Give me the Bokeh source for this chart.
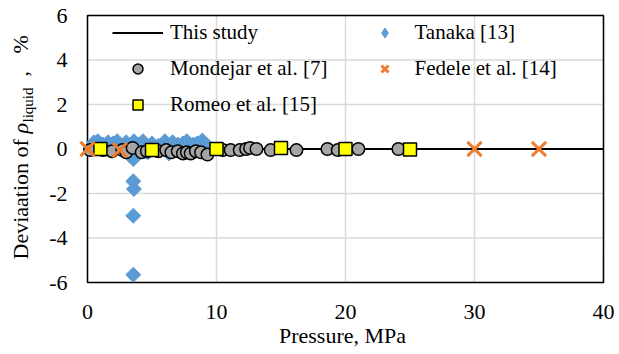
import math
from bokeh.plotting import figure
from bokeh.models import Legend, LegendItem, Range1d
from bokeh.core.properties import value
from bokeh.embed import file_html
from bokeh.resources import INLINE

# ---- data ----
study_p = [0, 40]
study_dev = [0, 0]

tanaka_p = [0.5, 0.8, 1.2, 1.6, 2.0, 2.3, 2.7, 3.0, 3.3, 3.55, 3.6, 3.55, 3.6, 3.55, 3.55,
            4.0, 4.3, 4.7, 5.0, 5.5, 6.0, 6.3, 6.6, 7.0, 7.4, 7.7, 8.2, 8.5, 8.9, 9.2]
tanaka_dev = [0.3, 0.35, 0.2, 0.3, 0.25, 0.35, 0.15, 0.3, -0.3, -0.45, 0.35, -1.45, -1.8, -3.0, -5.65,
              0.2, 0.35, -0.15, 0.25, 0.15, 0.35, -0.2, 0.3, 0.2, 0.25, 0.35, 0.2, 0.25, 0.38, 0.2]

mondejar_p = [0.2, 1.2, 1.9, 2.7, 3.0, 3.5, 4.2, 4.6, 5.5, 6.1, 6.5, 7.0, 7.4, 7.7, 8.0, 8.4,
              8.8, 9.3, 10.5, 11.1, 11.8, 12.3, 12.6, 13.1, 14.2, 16.2, 18.6, 19.4, 21.0, 24.1]
mondejar_dev = [-0.05, -0.05, -0.1, -0.05, -0.15, 0.05, -0.15, -0.1, -0.1, -0.05, -0.15, -0.1, -0.2,
                -0.15, -0.2, -0.1, -0.15, -0.25, -0.05, -0.05, -0.05, 0.0, 0.05, 0.0, -0.05, -0.05,
                0.0, -0.05, 0.0, 0.0]

romeo_p = [1, 5, 10, 15, 20, 25]
romeo_dev = [0.0, -0.05, 0.0, 0.05, 0.0, -0.02]

fedele_p = [0, 2.5, 30, 35]
fedele_dev = [0.0, -0.05, 0.0, 0.0]

x_ticks = [0, 10, 20, 30, 40]
x_tick_labels = ["0", "10", "20", "30", "40"]
y_ticks = [-6, -4, -2, 0, 2, 4, 6]
y_tick_labels = ["-6", "-4", "-2", "0", "2", "4", "6"]
x_title = "Pressure, MPa"

FONT = "Liberation Serif"

# ---- layout (canvas pixels) ----
W, H = 619, 354
PL, PR, PT, PB = 87, 603, 15, 282          # plot-area box in canvas pixels
x0, x1 = x_ticks[0], x_ticks[-1]
y0, y1 = y_ticks[0], y_ticks[-1]
kx = (PR - PL) / (x1 - x0)
ky = (PB - PT) / (y1 - y0)
xr = Range1d(x0 - PL / kx, x1 + (W - PR) / kx)
yr = Range1d(y0 - (H - PB) / ky, y1 + PT / ky)

p = figure(width=W, height=H, output_backend="svg", toolbar_location=None,
           x_range=xr, y_range=yr, x_axis_location=None, y_axis_location=None,
           min_border_left=0, min_border_right=0, min_border_top=0, min_border_bottom=0)
p.grid.visible = False
p.outline_line_color = None
p.background_fill_color = "white"
p.border_fill_color = "white"

# grid lines
p.segment(x0=x_ticks, y0=[y0] * len(x_ticks), x1=x_ticks, y1=[y1] * len(x_ticks),
          line_color="#d9d9d9", line_width=1.5)
p.segment(x0=[x0] * len(y_ticks), y0=y_ticks, x1=[x1] * len(y_ticks), y1=y_ticks,
          line_color="#d9d9d9", line_width=1.5)
# plot-area border
p.quad(left=[x0], right=[x1], bottom=[y0], top=[y1], fill_color=None,
       line_color="black", line_width=1.5)

# tick labels and titles
TK = dict(text_font=value(FONT), text_font_size="22px", text_color="black")
p.text(x=x_ticks, y=[y0] * len(x_ticks), text=x_tick_labels, text_align="center",
       text_baseline="middle", y_offset=29.5, **TK)
p.text(x=[x0] * len(y_ticks), y=y_ticks, text=y_tick_labels, text_align="right",
       text_baseline="middle", x_offset=-20, **TK)
p.text(x=[(x0 + x1) / 2], y=[y0], text=[x_title], text_align="center",
       text_baseline="middle", x_offset=-3, y_offset=53, **TK)

# y title: "Deviaation of ρ_liquid ,  %"
YT = dict(angle=math.pi / 2, text_font=value(FONT), text_color="black",
          text_align="left", text_baseline="middle")
p.text(x=[x0], y=[y0], text=["Deviaation of "], text_font_size="22px",
       x_offset=-67, y_offset=-23, **YT)
p.text(x=[x0], y=[y0], text=["ρ"], text_font_size="22px", text_font_style="italic",
       x_offset=-67, y_offset=-149, **YT)
p.text(x=[x0], y=[y0], text=["liquid"], text_font_size="15px",
       x_offset=-60, y_offset=-160, **YT)
p.text(x=[x0], y=[y0], text=[","], text_font_size="22px",
       x_offset=-67, y_offset=-206, **YT)
p.text(x=[x0], y=[y0], text=["%"], text_font_size="22px",
       x_offset=-67, y_offset=-229, **YT)

# data
r_line = p.line(study_p, study_dev, line_color="black", line_width=2)
r_tan = p.scatter(tanaka_p, tanaka_dev, marker="square", size=10.6, angle=math.pi / 4,
                  fill_color="#5b9bd5", line_color="#5b9bd5", line_width=1)
r_mon = p.scatter(mondejar_p, mondejar_dev, marker="circle", size=12.5,
                  fill_color="#a5a5a5", line_color="black", line_width=1.5)
r_rom = p.scatter(romeo_p, romeo_dev, marker="square", size=13,
                  fill_color="#ffff00", line_color="black", line_width=1.5)
r_fed = p.scatter(fedele_p, fedele_dev, marker="x", size=20,
                  line_color="#ed7d31", line_width=3)
# legend key for the diamond series (no visible point)
r_tan_key = p.scatter([float("nan")], [float("nan")], marker="diamond", size=12,
                      fill_color="#5b9bd5", line_color="#5b9bd5")

common = dict(orientation="vertical", padding=0, margin=0, spacing=11,
              glyph_width=51, glyph_height=25, label_height=25,
              label_text_font=FONT, label_text_font_size="21px", label_text_color="black",
              border_line_alpha=0, background_fill_alpha=0)
leg1 = Legend(items=[LegendItem(label="This study", renderers=[r_line]),
                     LegendItem(label="Mondejar et al. [7]", renderers=[r_mon]),
                     LegendItem(label="Romeo et al. [15]", renderers=[r_rom])],
              location=(112, 237.3), label_standoff=7, **common)
leg2 = Legend(items=[LegendItem(label="Tanaka [13]", renderers=[r_tan_key]),
                     LegendItem(label="Fedele et al. [14]", renderers=[r_fed])],
              location=(358.5, 273.3), label_standoff=5, **common)
p.add_layout(leg1)
p.add_layout(leg2)

open("out.html", "w").write(file_html(p, INLINE))
